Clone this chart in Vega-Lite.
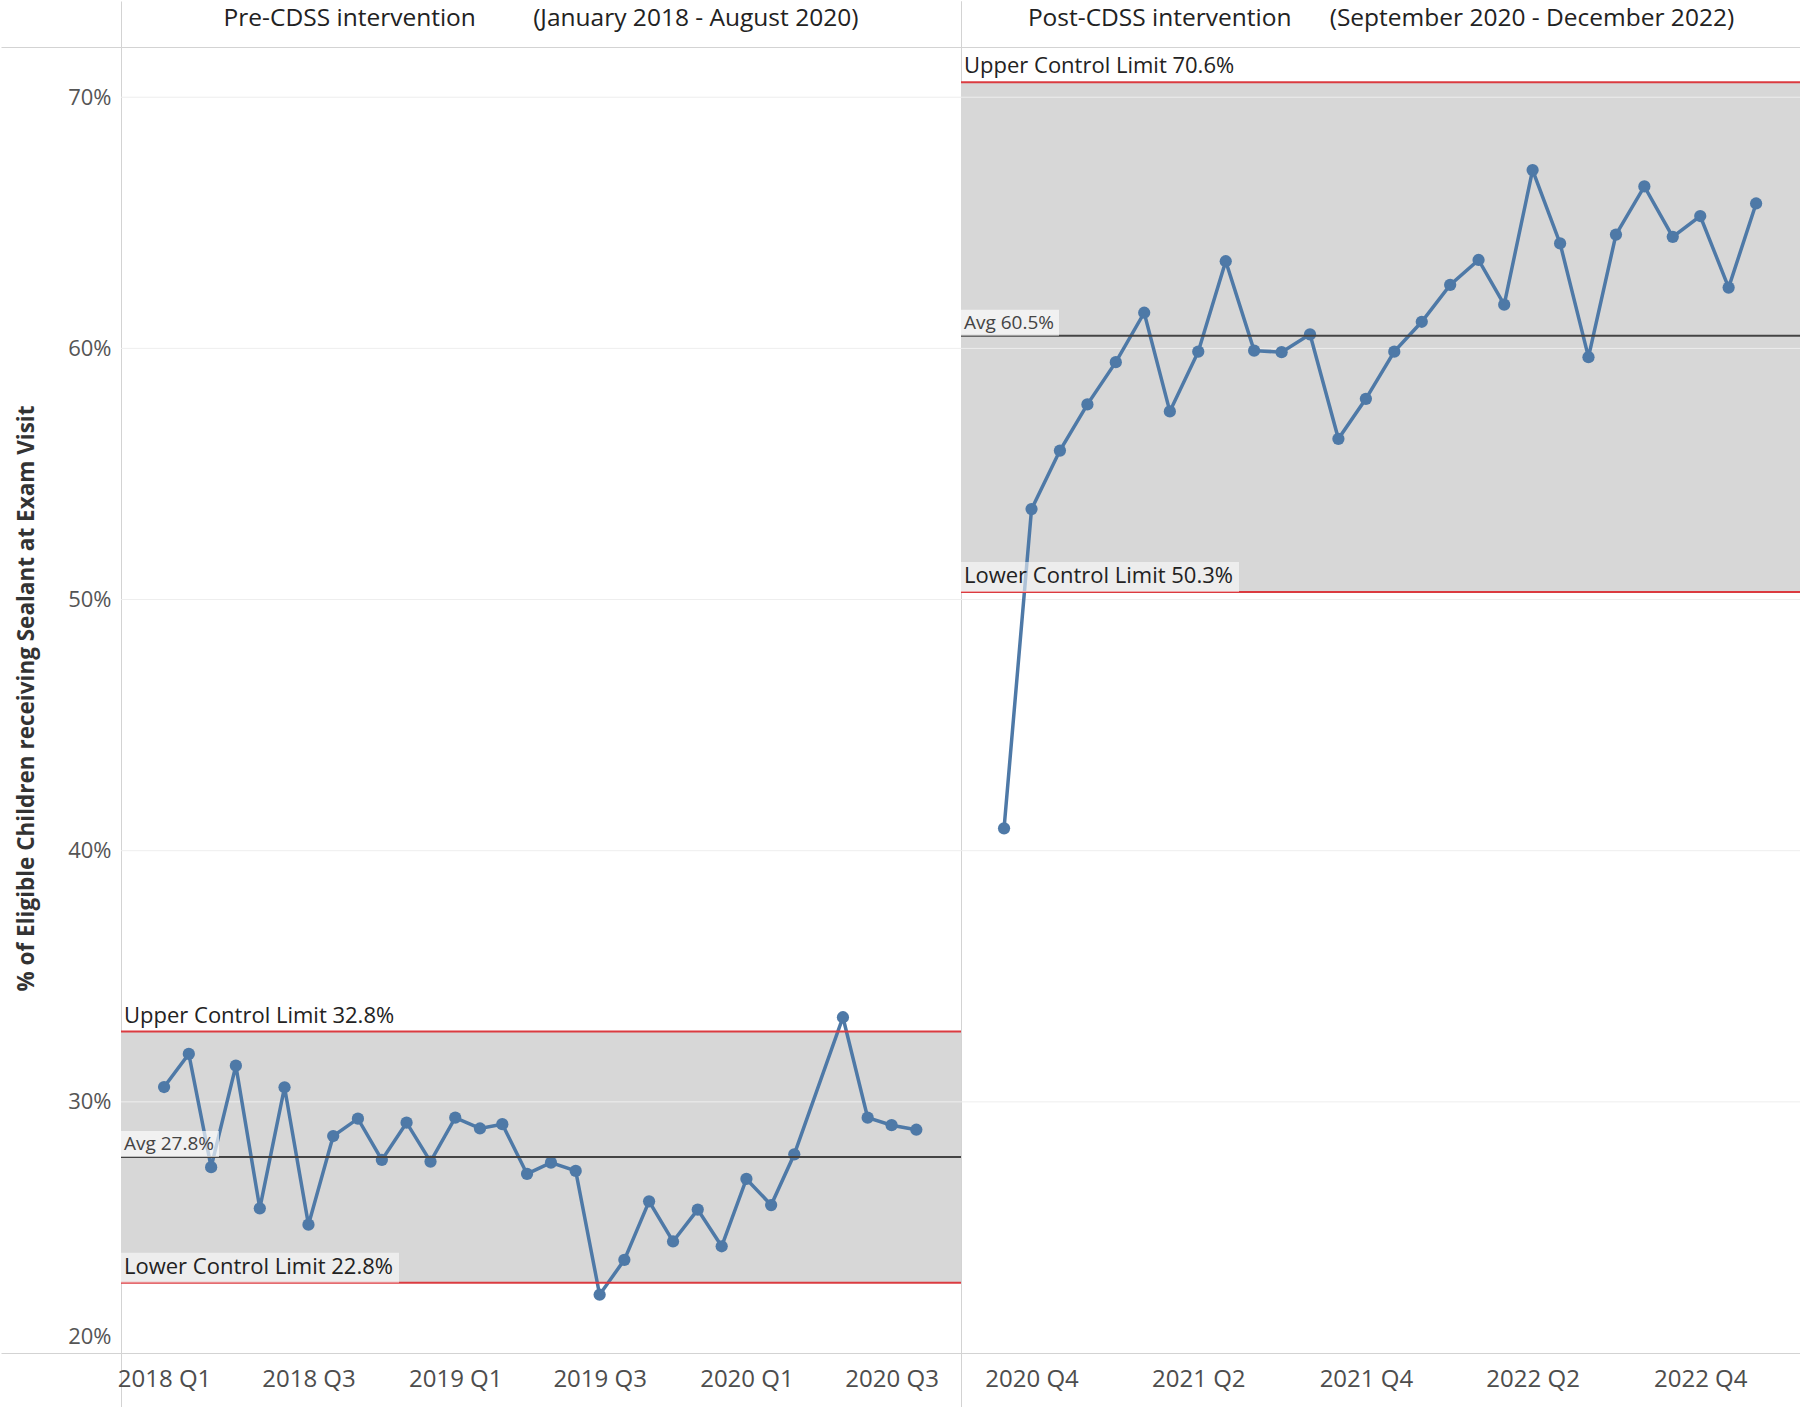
{
  "$schema": "https://vega.github.io/schema/vega-lite/v6.json",
  "background": "white",
  "padding": 0,
  "autosize": {"type": "pad"},
  "datasets": {
    "pre": [
      {"month": "2018-01-01", "pct": 0.3059}, {"month": "2018-02-01", "pct": 0.3191}, {"month": "2018-03-01", "pct": 0.2740},
      {"month": "2018-04-01", "pct": 0.3144}, {"month": "2018-05-01", "pct": 0.2576}, {"month": "2018-06-01", "pct": 0.3058},
      {"month": "2018-07-01", "pct": 0.2511}, {"month": "2018-08-01", "pct": 0.2864}, {"month": "2018-09-01", "pct": 0.2933},
      {"month": "2018-10-01", "pct": 0.2769}, {"month": "2018-11-01", "pct": 0.2917}, {"month": "2018-12-01", "pct": 0.2762},
      {"month": "2019-01-01", "pct": 0.2937}, {"month": "2019-02-01", "pct": 0.2894}, {"month": "2019-03-01", "pct": 0.2911},
      {"month": "2019-04-01", "pct": 0.2713}, {"month": "2019-05-01", "pct": 0.2758}, {"month": "2019-06-01", "pct": 0.2725},
      {"month": "2019-07-01", "pct": 0.2232}, {"month": "2019-08-01", "pct": 0.2371}, {"month": "2019-09-01", "pct": 0.2604},
      {"month": "2019-10-01", "pct": 0.2444}, {"month": "2019-11-01", "pct": 0.2571}, {"month": "2019-12-01", "pct": 0.2425},
      {"month": "2020-01-01", "pct": 0.2693}, {"month": "2020-02-01", "pct": 0.2589}, {"month": "2020-03-01", "pct": 0.2791},
      {"month": "2020-05-01", "pct": 0.3337}, {"month": "2020-06-01", "pct": 0.2937}, {"month": "2020-07-01", "pct": 0.2907},
      {"month": "2020-08-01", "pct": 0.2889}
    ],
    "post": [
      {"month": "2020-09-01", "pct": 0.4089}, {"month": "2020-10-01", "pct": 0.5360}, {"month": "2020-11-01", "pct": 0.5593},
      {"month": "2020-12-01", "pct": 0.5777}, {"month": "2021-01-01", "pct": 0.5945}, {"month": "2021-02-01", "pct": 0.6142},
      {"month": "2021-03-01", "pct": 0.5749}, {"month": "2021-04-01", "pct": 0.5987}, {"month": "2021-05-01", "pct": 0.6347},
      {"month": "2021-06-01", "pct": 0.5991}, {"month": "2021-07-01", "pct": 0.5985}, {"month": "2021-08-01", "pct": 0.6056},
      {"month": "2021-09-01", "pct": 0.5640}, {"month": "2021-10-01", "pct": 0.5799}, {"month": "2021-11-01", "pct": 0.5987},
      {"month": "2021-12-01", "pct": 0.6106}, {"month": "2022-01-01", "pct": 0.6253}, {"month": "2022-02-01", "pct": 0.6352},
      {"month": "2022-03-01", "pct": 0.6174}, {"month": "2022-04-01", "pct": 0.6710}, {"month": "2022-05-01", "pct": 0.6418},
      {"month": "2022-06-01", "pct": 0.5965}, {"month": "2022-07-01", "pct": 0.6453}, {"month": "2022-08-01", "pct": 0.6645},
      {"month": "2022-09-01", "pct": 0.6444}, {"month": "2022-10-01", "pct": 0.6527}, {"month": "2022-11-01", "pct": 0.6242},
      {"month": "2022-12-01", "pct": 0.6577}
    ],
    "preLimits": [{"ucl": 0.328, "avg": 0.278, "lcl": 0.228}],
    "postLimits": [{"ucl": 0.706, "avg": 0.605, "lcl": 0.503}]
  },
  "spacing": 0,
  "bounds": "flush",
  "hconcat": [
    {
      "width": 840,
      "height": 1306,
      "data": {"name": "preLimits"},
      "title": {"text": "Pre-CDSS intervention\u00a0\u00a0\u00a0\u00a0\u00a0\u00a0\u00a0\u00a0\u00a0(January 2018 - August 2020)", "frame": "group", "anchor": "middle", "offset": -43, "baseline": "middle", "fontSize": 24.5, "font": "Open Sans", "fontWeight": "normal", "color": "#222222"},
      "resolve": {"axis": {"x": "independent"}},
      "layer": [
        {
          "mark": {"type": "rect", "color": "#d7d7d7"},
          "encoding": {
            "y": {"field": "lcl", "type": "quantitative", "scale": {"domain": [0.2, 0.72]},
              "axis": {"title": "% of Eligible Children receiving Sealant at Exam Visit", "values": [0.2, 0.3, 0.4, 0.5, 0.6, 0.7, 0.72], "format": ".0%",
                "labelExpr": "datum.value > 0.71 ? '' : datum.label", "grid": false, "domain": false, "tickSize": 120,
                "tickColor": {"condition": {"test": "datum.value < 0.25 || datum.value > 0.71", "value": "#d3d3d3"}, "value": "rgba(0,0,0,0)"},
                "labelPadding": -110, "labelFontSize": 22, "labelColor": "#555555", "labelFont": "Open Sans", "labelFlush": true, "labelFlushOffset": -5, "labelOverlap": false,
                "titleFont": "Open Sans", "titleFontSize": 22.5, "titleFontWeight": "bold", "titleColor": "#333333", "titleX": -95, "titleY": 651, "titleBaseline": "middle"}},
            "y2": {"field": "ucl"}
          }
        },
        {"mark": {"type": "rule", "color": "#eeeeee", "strokeWidth": 1}, "encoding": {"y": {"datum": 0.3, "type": "quantitative", "scale": {"domain": [0.2, 0.72]}}}},
        {"mark": {"type": "rule", "color": "#eeeeee", "strokeWidth": 1}, "encoding": {"y": {"datum": 0.4, "type": "quantitative", "scale": {"domain": [0.2, 0.72]}}}},
        {"mark": {"type": "rule", "color": "#eeeeee", "strokeWidth": 1}, "encoding": {"y": {"datum": 0.5, "type": "quantitative", "scale": {"domain": [0.2, 0.72]}}}},
        {"mark": {"type": "rule", "color": "#eeeeee", "strokeWidth": 1}, "encoding": {"y": {"datum": 0.6, "type": "quantitative", "scale": {"domain": [0.2, 0.72]}}}},
        {"mark": {"type": "rule", "color": "#eeeeee", "strokeWidth": 1}, "encoding": {"y": {"datum": 0.7, "type": "quantitative", "scale": {"domain": [0.2, 0.72]}}}},
        {
          "data": {"name": "pre"},
          "mark": {"type": "line", "color": "#4e79a7", "strokeWidth": 3.5},
          "encoding": {
            "x": {"field": "month", "type": "temporal",
              "scale": {"type": "utc", "domain": [{"year": 2017, "month": 11, "date": 8, "utc": true}, {"year": 2020, "month": 9, "date": 26, "utc": true}]},
              "axis": {"orient": "bottom", "title": null,
                "values": [{"year": 2017, "month": 11, "date": 8, "utc": true}, {"year": 2018, "month": 1, "date": 1, "utc": true}, {"year": 2018, "month": 7, "date": 1, "utc": true}, {"year": 2019, "month": 1, "date": 1, "utc": true}, {"year": 2019, "month": 7, "date": 1, "utc": true}, {"year": 2020, "month": 1, "date": 1, "utc": true}, {"year": 2020, "month": 7, "date": 1, "utc": true}, {"year": 2020, "month": 9, "date": 26, "utc": true}],
                "labelExpr": "utcdate(datum.value) == 1 ? utcFormat(datum.value, '%Y Q%q') : ''",
                "domain": false, "grid": false, "tickSize": 55,
                "tickColor": {"condition": {"test": "utcdate(datum.value) != 1", "value": "#d3d3d3"}, "value": "rgba(0,0,0,0)"},
                "labelPadding": -41, "labelFontSize": 24, "labelColor": "#4d4d4d", "labelFont": "Open Sans", "labelOverlap": false, "labelFlush": false}},
            "y": {"field": "pct", "type": "quantitative", "scale": {"domain": [0.2, 0.72]}}
          }
        },
        {
          "data": {"name": "pre"},
          "mark": {"type": "point", "filled": true, "opacity": 1, "size": 150, "color": "#4e79a7"},
          "encoding": {
            "x": {"field": "month", "type": "temporal",
              "scale": {"type": "utc", "domain": [{"year": 2017, "month": 11, "date": 8, "utc": true}, {"year": 2020, "month": 9, "date": 26, "utc": true}]},
              "axis": {"orient": "top", "title": null, "values": [{"year": 2017, "month": 11, "date": 8, "utc": true}, {"year": 2020, "month": 9, "date": 26, "utc": true}], "labels": false, "domain": false, "grid": false, "tickSize": 46, "tickColor": "#d3d3d3"}},
            "y": {"field": "pct", "type": "quantitative", "scale": {"domain": [0.2, 0.72]}}
          }
        },
        {"mark": {"type": "rule", "color": "#db3b40", "strokeWidth": 2}, "encoding": {"y": {"field": "ucl", "type": "quantitative", "scale": {"domain": [0.2, 0.72]}}}},
        {"mark": {"type": "rule", "color": "#db3b40", "strokeWidth": 2}, "encoding": {"y": {"field": "lcl", "type": "quantitative", "scale": {"domain": [0.2, 0.72]}}}},
        {"mark": {"type": "rule", "color": "#444444", "strokeWidth": 2}, "encoding": {"y": {"field": "avg", "type": "quantitative", "scale": {"domain": [0.2, 0.72]}}}},
        {
          "mark": {"type": "rect", "color": "#ffffff", "opacity": 0.65, "width": 98, "height": 26, "xOffset": 49, "yOffset": -13},
          "encoding": {
            "x": {"datum": {"year": 2017, "month": 11, "date": 8, "utc": true}, "type": "temporal", "scale": {"type": "utc", "domain": [{"year": 2017, "month": 11, "date": 8, "utc": true}, {"year": 2020, "month": 9, "date": 26, "utc": true}]}, "axis": null},
            "y": {"field": "avg", "type": "quantitative", "scale": {"domain": [0.2, 0.72]}}
          }
        },
        {
          "mark": {"type": "rect", "color": "#ffffff", "opacity": 0.55, "width": 278, "height": 30, "xOffset": 139, "yOffset": -15},
          "encoding": {
            "x": {"datum": {"year": 2017, "month": 11, "date": 8, "utc": true}, "type": "temporal", "scale": {"type": "utc", "domain": [{"year": 2017, "month": 11, "date": 8, "utc": true}, {"year": 2020, "month": 9, "date": 26, "utc": true}]}, "axis": null},
            "y": {"field": "lcl", "type": "quantitative", "scale": {"domain": [0.2, 0.72]}}
          }
        },
        {
          "mark": {"type": "text", "text": {"expr": "'Upper Control Limit ' + format(datum.ucl, '.1%')"}, "align": "left", "baseline": "alphabetic", "dx": 3, "dy": -9, "fontSize": 22, "font": "Open Sans", "color": "#222222"},
          "encoding": {
            "x": {"datum": {"year": 2017, "month": 11, "date": 8, "utc": true}, "type": "temporal", "scale": {"type": "utc", "domain": [{"year": 2017, "month": 11, "date": 8, "utc": true}, {"year": 2020, "month": 9, "date": 26, "utc": true}]}, "axis": null},
            "y": {"field": "ucl", "type": "quantitative", "scale": {"domain": [0.2, 0.72]}}
          }
        },
        {
          "mark": {"type": "text", "text": {"expr": "'Avg ' + format(datum.avg, '.1%')"}, "align": "left", "baseline": "alphabetic", "dx": 3, "dy": -7, "fontSize": 19, "font": "Open Sans", "color": "#444444"},
          "encoding": {
            "x": {"datum": {"year": 2017, "month": 11, "date": 8, "utc": true}, "type": "temporal", "scale": {"type": "utc", "domain": [{"year": 2017, "month": 11, "date": 8, "utc": true}, {"year": 2020, "month": 9, "date": 26, "utc": true}]}, "axis": null},
            "y": {"field": "avg", "type": "quantitative", "scale": {"domain": [0.2, 0.72]}}
          }
        },
        {
          "mark": {"type": "text", "text": {"expr": "'Lower Control Limit ' + format(datum.lcl, '.1%')"}, "align": "left", "baseline": "alphabetic", "dx": 3, "dy": -9, "fontSize": 22, "font": "Open Sans", "color": "#222222"},
          "encoding": {
            "x": {"datum": {"year": 2017, "month": 11, "date": 8, "utc": true}, "type": "temporal", "scale": {"type": "utc", "domain": [{"year": 2017, "month": 11, "date": 8, "utc": true}, {"year": 2020, "month": 9, "date": 26, "utc": true}]}, "axis": null},
            "y": {"field": "lcl", "type": "quantitative", "scale": {"domain": [0.2, 0.72]}}
          }
        }
      ]
    },
    {
      "width": 840,
      "height": 1306,
      "data": {"name": "postLimits"},
      "title": {"text": "Post-CDSS intervention\u00a0\u00a0\u00a0\u00a0\u00a0\u00a0(September 2020 - December 2022)", "frame": "group", "anchor": "middle", "offset": -43, "baseline": "middle", "fontSize": 24.5, "font": "Open Sans", "fontWeight": "normal", "color": "#222222"},
      "resolve": {"axis": {"x": "independent"}},
      "layer": [
        {
          "mark": {"type": "rect", "color": "#d7d7d7"},
          "encoding": {
            "y": {"field": "lcl", "type": "quantitative", "scale": {"domain": [0.2, 0.72]}, "axis": null},
            "y2": {"field": "ucl"}
          }
        },
        {"mark": {"type": "rule", "color": "#eeeeee", "strokeWidth": 1}, "encoding": {"y": {"datum": 0.3, "type": "quantitative", "scale": {"domain": [0.2, 0.72]}, "axis": null}}},
        {"mark": {"type": "rule", "color": "#eeeeee", "strokeWidth": 1}, "encoding": {"y": {"datum": 0.4, "type": "quantitative", "scale": {"domain": [0.2, 0.72]}, "axis": null}}},
        {"mark": {"type": "rule", "color": "#eeeeee", "strokeWidth": 1}, "encoding": {"y": {"datum": 0.5, "type": "quantitative", "scale": {"domain": [0.2, 0.72]}, "axis": null}}},
        {"mark": {"type": "rule", "color": "#eeeeee", "strokeWidth": 1}, "encoding": {"y": {"datum": 0.6, "type": "quantitative", "scale": {"domain": [0.2, 0.72]}, "axis": null}}},
        {"mark": {"type": "rule", "color": "#eeeeee", "strokeWidth": 1}, "encoding": {"y": {"datum": 0.7, "type": "quantitative", "scale": {"domain": [0.2, 0.72]}, "axis": null}}},
        {
          "data": {"name": "post"},
          "mark": {"type": "line", "color": "#4e79a7", "strokeWidth": 3.5},
          "encoding": {
            "x": {"field": "month", "type": "temporal",
              "scale": {"type": "utc", "domain": [{"year": 2020, "month": 7, "date": 16, "utc": true}, {"year": 2023, "month": 1, "date": 19, "utc": true}]},
              "axis": {"orient": "bottom", "title": null,
                "values": [{"year": 2020, "month": 7, "date": 16, "utc": true}, {"year": 2020, "month": 10, "date": 1, "utc": true}, {"year": 2021, "month": 4, "date": 1, "utc": true}, {"year": 2021, "month": 10, "date": 1, "utc": true}, {"year": 2022, "month": 4, "date": 1, "utc": true}, {"year": 2022, "month": 10, "date": 1, "utc": true}, {"year": 2023, "month": 1, "date": 19, "utc": true}],
                "labelExpr": "utcdate(datum.value) == 1 ? utcFormat(datum.value, '%Y Q%q') : ''",
                "domain": false, "grid": false, "tickSize": 55,
                "tickColor": {"condition": {"test": "utcdate(datum.value) != 1", "value": "#d3d3d3"}, "value": "rgba(0,0,0,0)"},
                "labelPadding": -41, "labelFontSize": 24, "labelColor": "#4d4d4d", "labelFont": "Open Sans", "labelOverlap": false, "labelFlush": false}},
            "y": {"field": "pct", "type": "quantitative", "scale": {"domain": [0.2, 0.72]}, "axis": null}
          }
        },
        {
          "data": {"name": "post"},
          "mark": {"type": "point", "filled": true, "opacity": 1, "size": 150, "color": "#4e79a7"},
          "encoding": {
            "x": {"field": "month", "type": "temporal",
              "scale": {"type": "utc", "domain": [{"year": 2020, "month": 7, "date": 16, "utc": true}, {"year": 2023, "month": 1, "date": 19, "utc": true}]},
              "axis": {"orient": "top", "title": null, "values": [{"year": 2020, "month": 7, "date": 16, "utc": true}, {"year": 2023, "month": 1, "date": 19, "utc": true}], "labels": false, "domain": false, "grid": false, "tickSize": 46, "tickColor": "#d3d3d3"}},
            "y": {"field": "pct", "type": "quantitative", "scale": {"domain": [0.2, 0.72]}, "axis": null}
          }
        },
        {"mark": {"type": "rule", "color": "#db3b40", "strokeWidth": 2}, "encoding": {"y": {"field": "ucl", "type": "quantitative", "scale": {"domain": [0.2, 0.72]}, "axis": null}}},
        {"mark": {"type": "rule", "color": "#db3b40", "strokeWidth": 2}, "encoding": {"y": {"field": "lcl", "type": "quantitative", "scale": {"domain": [0.2, 0.72]}, "axis": null}}},
        {"mark": {"type": "rule", "color": "#444444", "strokeWidth": 2}, "encoding": {"y": {"field": "avg", "type": "quantitative", "scale": {"domain": [0.2, 0.72]}, "axis": null}}},
        {
          "mark": {"type": "rect", "color": "#ffffff", "opacity": 0.65, "width": 98, "height": 26, "xOffset": 49, "yOffset": -13},
          "encoding": {
            "x": {"datum": {"year": 2020, "month": 7, "date": 16, "utc": true}, "type": "temporal", "scale": {"type": "utc", "domain": [{"year": 2020, "month": 7, "date": 16, "utc": true}, {"year": 2023, "month": 1, "date": 19, "utc": true}]}, "axis": null},
            "y": {"field": "avg", "type": "quantitative", "scale": {"domain": [0.2, 0.72]}, "axis": null}
          }
        },
        {
          "mark": {"type": "rect", "color": "#ffffff", "opacity": 0.55, "width": 278, "height": 30, "xOffset": 139, "yOffset": -15},
          "encoding": {
            "x": {"datum": {"year": 2020, "month": 7, "date": 16, "utc": true}, "type": "temporal", "scale": {"type": "utc", "domain": [{"year": 2020, "month": 7, "date": 16, "utc": true}, {"year": 2023, "month": 1, "date": 19, "utc": true}]}, "axis": null},
            "y": {"field": "lcl", "type": "quantitative", "scale": {"domain": [0.2, 0.72]}, "axis": null}
          }
        },
        {
          "mark": {"type": "text", "text": {"expr": "'Upper Control Limit ' + format(datum.ucl, '.1%')"}, "align": "left", "baseline": "alphabetic", "dx": 3, "dy": -9, "fontSize": 22, "font": "Open Sans", "color": "#222222"},
          "encoding": {
            "x": {"datum": {"year": 2020, "month": 7, "date": 16, "utc": true}, "type": "temporal", "scale": {"type": "utc", "domain": [{"year": 2020, "month": 7, "date": 16, "utc": true}, {"year": 2023, "month": 1, "date": 19, "utc": true}]}, "axis": null},
            "y": {"field": "ucl", "type": "quantitative", "scale": {"domain": [0.2, 0.72]}, "axis": null}
          }
        },
        {
          "mark": {"type": "text", "text": {"expr": "'Avg ' + format(datum.avg, '.1%')"}, "align": "left", "baseline": "alphabetic", "dx": 3, "dy": -7, "fontSize": 19, "font": "Open Sans", "color": "#444444"},
          "encoding": {
            "x": {"datum": {"year": 2020, "month": 7, "date": 16, "utc": true}, "type": "temporal", "scale": {"type": "utc", "domain": [{"year": 2020, "month": 7, "date": 16, "utc": true}, {"year": 2023, "month": 1, "date": 19, "utc": true}]}, "axis": null},
            "y": {"field": "avg", "type": "quantitative", "scale": {"domain": [0.2, 0.72]}, "axis": null}
          }
        },
        {
          "mark": {"type": "text", "text": {"expr": "'Lower Control Limit ' + format(datum.lcl, '.1%')"}, "align": "left", "baseline": "alphabetic", "dx": 3, "dy": -9, "fontSize": 22, "font": "Open Sans", "color": "#222222"},
          "encoding": {
            "x": {"datum": {"year": 2020, "month": 7, "date": 16, "utc": true}, "type": "temporal", "scale": {"type": "utc", "domain": [{"year": 2020, "month": 7, "date": 16, "utc": true}, {"year": 2023, "month": 1, "date": 19, "utc": true}]}, "axis": null},
            "y": {"field": "lcl", "type": "quantitative", "scale": {"domain": [0.2, 0.72]}, "axis": null}
          }
        }
      ]
    }
  ],
  "config": {
    "font": "Open Sans",
    "view": {"stroke": "#d3d3d3", "strokeWidth": 1}
  }
}
